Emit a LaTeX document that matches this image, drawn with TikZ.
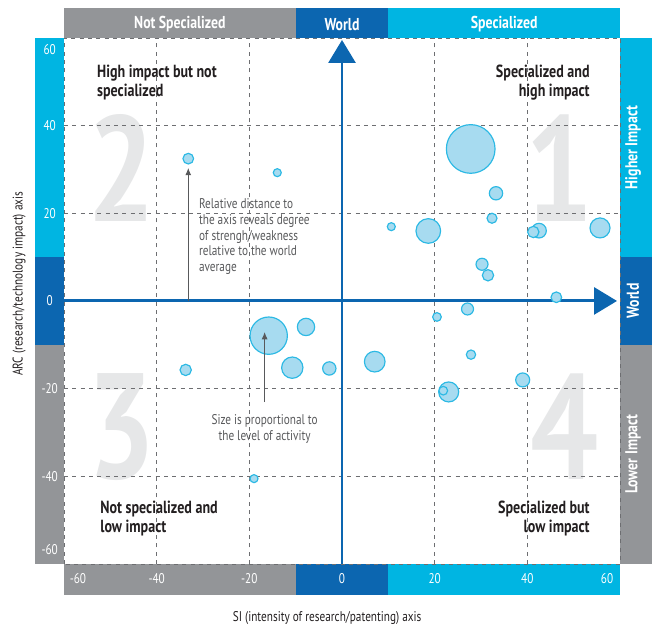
\documentclass[tikz,border=0pt]{standalone}
\usepackage{fontspec}
\setmainfont{PT Sans}[FakeStretch=0.8]
\newfontfamily\bignumfont{PT Sans}[FakeStretch=0.8]
\usetikzlibrary{arrows.meta}

\definecolor{barcyan}{HTML}{00B5E2}
\definecolor{barnavy}{HTML}{0C66B0}
\definecolor{bargrey}{HTML}{939598}
\definecolor{bubblefill}{HTML}{A7DBF0}
\definecolor{bubbleline}{HTML}{2CB9E4}
\definecolor{numgrey}{HTML}{E6E7E8}
\definecolor{gridgrey}{HTML}{6D6E71}
\definecolor{notegrey}{HTML}{58595B}
\definecolor{inkdark}{HTML}{231F20}

\begin{document}
\begin{tikzpicture}[x=0.139cm,y=0.1315cm,
  gridline/.style={gridgrey,line width=0.7pt,dash pattern=on 1.2mm off 1.3mm},
  axisline/.style={barnavy,line width=2.5pt,-{Triangle[length=6.9mm,width=8.1mm]}},
  bubble/.style={circle,draw=bubbleline,fill=bubblefill,line width=1pt,inner sep=0pt},
  bignum/.style={text=numgrey,inner sep=0pt,font=\bignumfont\bfseries\fontsize{128}{128}\selectfont},
  barlabel/.style={text=white,inner sep=0pt,font=\bfseries\fontsize{14.7}{14.7}\selectfont},
  ticklabel/.style={text=white,inner sep=0pt,font=\fontsize{12}{12}\selectfont},
  quadlabel/.style={text=inkdark,inner sep=0pt,font=\bfseries\fontsize{15}{16.2}\selectfont},
  note/.style={text=notegrey,inner sep=0pt,font=\fontsize{12}{13.6}\selectfont},
  axistitle/.style={text=inkdark,inner sep=0pt,font=\fontsize{12}{12}\selectfont},
  notearrow/.style={notegrey,line width=0.8pt,-{Latex[length=2.2mm,width=1.8mm]}}]
  \useasboundingbox (-73.82,-74.61) rectangle (66.91,68.67);

  % bands round the plot
  \fill[bargrey] (-60,60) rectangle (-10,66.85);
  \fill[barnavy] (-10,60) rectangle (10,66.85);
  \fill[barcyan] (10,60) rectangle (60,66.85);
  \fill[bargrey] (-60,-67.08) rectangle (-10,-60);
  \fill[barnavy] (-10,-67.08) rectangle (10,-60);
  \fill[barcyan] (10,-67.08) rectangle (60,-60);
  \fill[barcyan] (-66.26,10) rectangle (-60,60);
  \fill[barnavy] (-66.26,-10) rectangle (-60,10);
  \fill[bargrey] (-66.26,-60) rectangle (-60,-10);
  \fill[barcyan] (60,10) rectangle (66.91,60);
  \fill[barnavy] (60,-10) rectangle (66.91,10);
  \fill[bargrey] (60,-60) rectangle (66.91,-10);

  \node[barlabel] (topnot) at (-35,63.1) {Not Specialized};
  \node[barlabel] (topworld) at (0,63.1) {World};
  \node[barlabel] (topspec) at (35,63.1) {Specialized};
  \node[barlabel,rotate=90] (righthigh) at (62.8,35) {Higher Impact};
  \node[barlabel,rotate=90] (rightworld) at (62.8,0) {World};
  \node[barlabel,rotate=90] (rightlow) at (62.8,-35) {Lower Impact};

  \foreach \v/\p in {60/57.3,40/40,20/20,0/0,-20/-20,-40/-40,-60/-56.8}
    \node[ticklabel] (ytick\v) at (-63.1,\p) {\v};
  \foreach \v/\p in {-60/-57,-40/-40,-20/-20,0/0,20/20,40/40,60/57.2}
    \node[ticklabel] (xtick\v) at (\p,-63.4) {\v};

  % quadrant numbers
  \node[bignum] (num2) at (-47.5,30.3) {2};
  \node[bignum] (num1) at (47.05,30.2) {1};
  \node[bignum] (num3) at (-47.5,-28.7) {3};
  \node[bignum] (num4) at (48,-28.7) {4};

  % grid
  \draw[gridline] (-60,-60) rectangle (60,60);
  \foreach \v in {-40,-20,20,40} {
    \draw[gridline] (\v,-60) -- (\v,60);
    \draw[gridline] (-60,\v) -- (60,\v);
  }

  \draw[axisline] (0,-60) -- (0,59.55);
  \draw[axisline] (-60,0) -- (59.36,0);

  % bubbles: x, y, radius in mm
  \foreach \bx/\by/\br [count=\i] in {27.78/34.68/7.3, 33.24/24.57/2.0,
      32.38/18.87/1.5, 10.64/16.95/1.2, 18.63/15.97/3.7, 42.52/16.04/2.2,
      41.29/15.74/1.7, 55.69/16.66/3.0, 30.22/8.37/1.8, 31.51/5.86/1.7,
      46.26/0.84/1.6, 27.09/-1.83/1.8, 20.5/-3.65/1.3, -33.18/32.47/1.6,
      -13.97/29.27/1.2, -15.82/-7.92/5.6, -7.77/-5.93/2.6, -10.73/-15.22/3.2,
      -33.74/-15.74/1.7, -2.74/-15.40/2.0, -18.99/-40.54/1.2, 7.06/-13.85/3.1,
      27.84/-12.25/1.4, 39.0/-18.02/2.1, 23.03/-20.76/3.0, 21.86/-20.47/1.3}
    \node[bubble,minimum size={2*\br mm}] (b\i) at (\bx,\by) {};

  \node[quadlabel,anchor=north west,align=left] (q2label) at (-52.9,53.9)
    {High impact but not\\specialized};
  \node[quadlabel,anchor=north east,align=right] (q1label) at (53.5,53.9)
    {Specialized and\\high impact};
  \node[quadlabel,anchor=north west,align=left] (q3label) at (-52.2,-45.6)
    {Not specialized and\\low impact};
  \node[quadlabel,anchor=north east,align=right] (q4label) at (53.5,-45.6)
    {Specialized but\\low impact};

  % notes
  \node[note,anchor=north west,align=left] (distnote) at (-30.9,23.5)
    {Relative distance to\\the axis reveals degree\\of strengh/weakness\\relative to the world\\average};
  \coordinate (distfoot) at (b14 |- 0,0);
  \draw[notearrow,shorten >=1mm] (distfoot) -- (b14.south);

  \node[note,anchor=north,align=center] (sizenote) at (-16.7,-25.8)
    {Size is proportional to\\the level of activity};
  \draw[notearrow] ([yshift=3.6mm]sizenote.north) -- ([yshift=1.1mm]sizenote.north |- b16.center);

  \node[axistitle] (sititle) at (-3.2,-72.3) {SI (intensity of research/patenting) axis};
  \node[axistitle,rotate=90] (arctitle) at (-69.7,3.9) {ARC (research/technology impact) axis};
\end{tikzpicture}
\end{document}
